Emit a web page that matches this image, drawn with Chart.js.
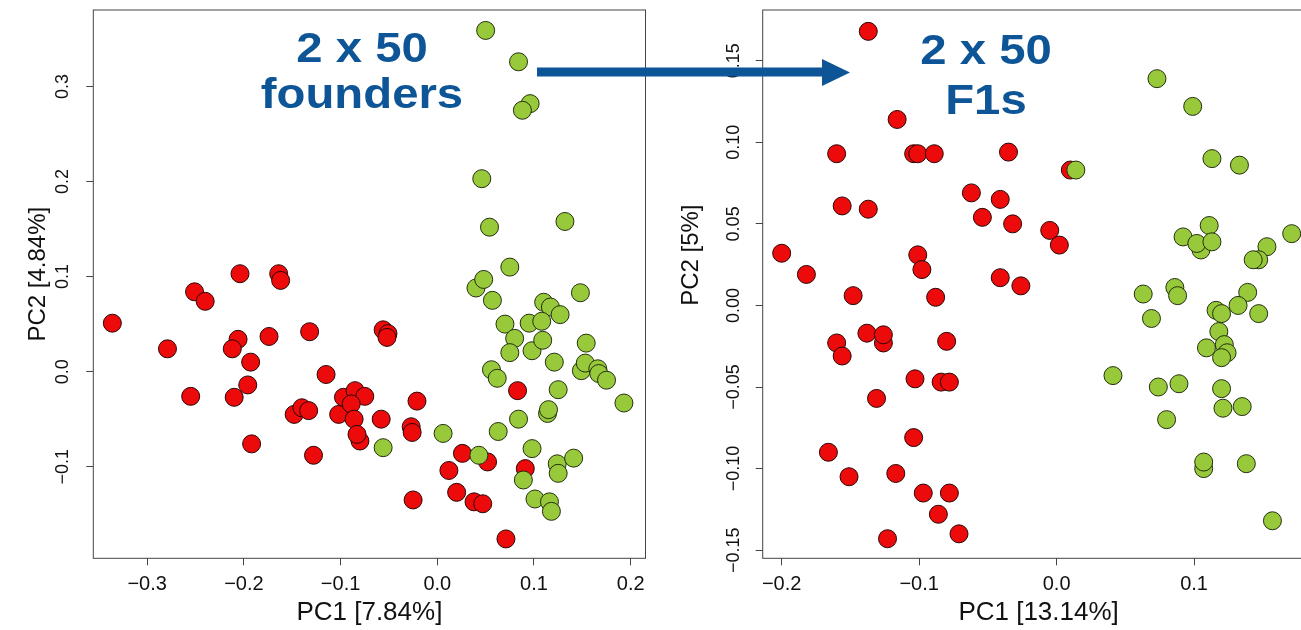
<!DOCTYPE html>
<html>
<head>
  <title>PCA founders vs F1s</title>
  <script src="https://cdn.jsdelivr.net/npm/chart.js"></script>
  <style>
    body{
        margin:0px;
        padding:0px;
        background-color:#ffffff;
        overflow:hidden;
    }
    #page{
        position:relative;
        width:1301px;
        height:630px;
        overflow:hidden;
    }
    #left-chart{ position:absolute; left:0px; top:0px; }
    #right-chart{ position:absolute; left:660px; top:0px; }
    .label{
        position:absolute;
        top:24px;
        width:320px;
        text-align:center;
        font-family:'Liberation Sans', Arial, Helvetica, sans-serif;
        font-weight:bold;
        font-size:43px;
        color:#0d5596;
        transform:scaleX(1.1);
    }
    #left-label{ left:202px; line-height:46px; }
    #right-label{ left:826px; line-height:50px; }
    #arrow{ position:absolute; left:0px; top:0px; }
  </style>
</head>
<body>
<div id="page">
  <canvas id="left-chart" width="660" height="630"></canvas>
  <canvas id="right-chart" width="669" height="630"></canvas>
  <div id="left-label" class="label">2 x 50<br>founders</div>
  <div id="right-label" class="label">2 x 50<br>F1s</div>
  <svg id="arrow" width="1301" height="630">
    <line x1="537" y1="72" x2="826" y2="72" stroke="#0d5596" stroke-width="9"/>
    <polygon points="822,59 850,72.5 822,86" fill="#0d5596"/>
  </svg>
</div>
<script>
// founders, PC1 / PC2  [x, y]
const foundersRed = [
  [-0.336, 0.051], [-0.279, 0.024], [-0.255, -0.026], [-0.251, 0.084], [-0.240, 0.074],
  [-0.204, 0.103], [-0.206, 0.034], [-0.212, 0.024], [-0.210, -0.027], [-0.193, 0.010],
  [-0.196, -0.014], [-0.192, -0.076], [-0.174, 0.037], [-0.164, 0.103], [-0.162, 0.096],
  [-0.148, -0.045], [-0.140, -0.038], [-0.133, -0.041], [-0.132, 0.042], [-0.128, -0.088],
  [-0.115, -0.003], [-0.102, -0.045], [-0.097, -0.027], [-0.085, -0.020], [-0.075, -0.026],
  [-0.089, -0.034], [-0.086, -0.050], [-0.080, -0.073], [-0.083, -0.066], [-0.058, -0.050],
  [-0.056, 0.044], [-0.051, 0.040], [-0.052, 0.036], [-0.021, -0.031], [-0.027, -0.058],
  [-0.026, -0.064], [-0.025, -0.135], [0.012, -0.104], [0.026, -0.086], [0.052, -0.095],
  [0.020, -0.127], [0.038, -0.137], [0.047, -0.139], [0.083, -0.020], [0.091, -0.102],
  [0.071, -0.176]
];
const foundersGreen = [
  [0.050, 0.359], [0.084, 0.326], [0.096, 0.282], [0.088, 0.275], [0.046, 0.203],
  [0.054, 0.152], [0.132, 0.158], [0.075, 0.110], [0.040, 0.088], [0.048, 0.097],
  [0.148, 0.083], [0.057, 0.075], [0.110, 0.073], [0.117, 0.068], [0.127, 0.060],
  [0.070, 0.050], [0.095, 0.051], [0.108, 0.053], [0.080, 0.035], [0.075, 0.020],
  [0.098, 0.022], [0.109, 0.033], [0.154, 0.030], [0.121, 0.010], [0.149, 0.001],
  [0.153, 0.009], [0.166, 0.003], [0.167, -0.002], [0.175, -0.009], [0.193, -0.033],
  [0.056, 0.002], [0.062, -0.007], [0.125, -0.019], [0.114, -0.044], [0.115, -0.040],
  [0.084, -0.050], [0.063, -0.063], [0.006, -0.065], [0.043, -0.088], [0.098, -0.081],
  [0.124, -0.097], [0.125, -0.107], [0.141, -0.091], [0.089, -0.114], [0.101, -0.134],
  [0.116, -0.137], [0.118, -0.147], [-0.056, -0.080]
];

// F1s, PC1 / PC2  [x, y]
const f1Red = [
  [-0.137, 0.168], [-0.116, 0.114], [-0.160, 0.093], [-0.104, 0.093], [-0.101, 0.093],
  [-0.089, 0.093], [-0.035, 0.094], [0.010, 0.083], [-0.156, 0.061], [-0.137, 0.059],
  [-0.062, 0.069], [-0.041, 0.065], [-0.054, 0.054], [-0.032, 0.050], [-0.005, 0.046],
  [0.002, 0.037], [-0.200, 0.032], [-0.182, 0.019], [-0.101, 0.031], [-0.098, 0.022],
  [-0.041, 0.017], [-0.026, 0.012], [-0.148, 0.006], [-0.088, 0.005], [-0.138, -0.017],
  [-0.126, -0.023], [-0.126, -0.018], [-0.160, -0.023], [-0.156, -0.031], [-0.080, -0.022],
  [-0.103, -0.045], [-0.084, -0.047], [-0.078, -0.047], [-0.131, -0.057], [-0.104, -0.081],
  [-0.166, -0.090], [-0.151, -0.105], [-0.117, -0.103], [-0.097, -0.115], [-0.078, -0.115],
  [-0.086, -0.128], [-0.123, -0.143], [-0.071, -0.140]
];
const f1Green = [
  [0.014, 0.083], [0.073, 0.139], [0.099, 0.122], [0.113, 0.090], [0.133, 0.086],
  [0.111, 0.049], [0.092, 0.042], [0.105, 0.034], [0.102, 0.038], [0.113, 0.039],
  [0.171, 0.044], [0.153, 0.036], [0.147, 0.028], [0.143, 0.028], [0.063, 0.007],
  [0.086, 0.011], [0.088, 0.006], [0.069, -0.008], [0.139, 0.008], [0.132, 0.000],
  [0.147, -0.005], [0.116, -0.003], [0.120, -0.005], [0.118, -0.016], [0.122, -0.024],
  [0.124, -0.029], [0.109, -0.026], [0.120, -0.032], [0.041, -0.043], [0.074, -0.050],
  [0.089, -0.048], [0.120, -0.051], [0.080, -0.070], [0.121, -0.063], [0.135, -0.062],
  [0.107, -0.100], [0.107, -0.096], [0.138, -0.097], [0.157, -0.132]
];

// tick values and labels
const leftXTicks = [-0.3, -0.2, -0.1, 0.0, 0.1, 0.2];
const leftXLabels = ['\u22120.3', '\u22120.2', '\u22120.1', '0.0', '0.1', '0.2'];
const leftYTicks = [-0.1, 0.0, 0.1, 0.2, 0.3];
const leftYLabels = ['\u22120.1', '0.0', '0.1', '0.2', '0.3'];
const rightXTicks = [-0.2, -0.1, 0.0, 0.1];
const rightXLabels = ['\u22120.2', '\u22120.1', '0.0', '0.1'];
const rightYTicks = [-0.15, -0.10, -0.05, 0.00, 0.05, 0.10, 0.15];
const rightYLabels = ['\u22120.15', '\u22120.10', '\u22120.05', '0.00', '0.05', '0.10', '0.15'];

Chart.defaults.font.family = "'Liberation Sans', Arial, Helvetica, sans-serif";
Chart.defaults.color = '#111';

// R style box round the plot region
const boxPlugin = {
  id: 'box',
  afterDraw(chart) {
    const a = chart.chartArea;
    const ctx = chart.ctx;
    ctx.save();
    ctx.strokeStyle = '#444';
    ctx.lineWidth = 1;
    ctx.strokeRect(a.left, a.top, a.right - a.left, a.bottom - a.top);
    ctx.restore();
  }
};

// y axis title, the original sits a bit above the middle of the axis
const yTitlePlugin = {
  id: 'yTitle',
  afterDraw(chart, args, opts) {
    const a = chart.chartArea;
    const ctx = chart.ctx;
    ctx.save();
    ctx.translate(opts.x, (a.top + a.bottom) / 2 + opts.dy);
    ctx.rotate(-Math.PI / 2);
    ctx.font = "24px 'Liberation Sans', Arial, Helvetica, sans-serif";
    ctx.fillStyle = '#111';
    ctx.textAlign = 'center';
    ctx.textBaseline = 'middle';
    ctx.fillText(opts.text, 0, 0);
    ctx.restore();
  }
};

function toPoints(arr){
  return arr.map(p => ({x: p[0], y: p[1]}));
}

function makeChart(id, red, green, opt){
  const ctx = document.getElementById(id).getContext('2d');
  return new Chart(ctx, {
    type: 'scatter',
    data: {
      datasets: [
        { label: 'green', data: toPoints(green), order: 0,
          backgroundColor: '#97c93a', borderColor: '#22300c', borderWidth: 1, pointRadius: 9 },
        { label: 'red', data: toPoints(red), order: 1,
          backgroundColor: '#ec0a0a', borderColor: '#2a0505', borderWidth: 1, pointRadius: 9 }
      ]
    },
    options: {
      responsive: false,
      animation: false,
      devicePixelRatio: 1,
      events: [],
      layout: { padding: { left: 0, top: 7.3, right: 14.5, bottom: 0 } },
      plugins: {
        legend: { display: false },
        tooltip: { enabled: false },
        yTitle: { text: opt.yTitle, x: opt.yTitleX, dy: opt.yTitleDy }
      },
      scales: {
        x: {
          type: 'linear',
          min: opt.xMin, max: opt.xMax,
          afterBuildTicks: s => { s.ticks = opt.xTicks.map(v => ({value: v})); },
          afterFit: s => { s.height = 71.7; s.paddingLeft = 0; s.paddingRight = 0; },
          border: { display: false },
          grid: { drawOnChartArea: false, drawTicks: true, tickLength: 7, tickColor: '#444' },
          ticks: { padding: 7.4, font: { size: 20 }, color: '#111',
                   maxRotation: 0, callback: (v, i) => opt.xLabels[i] },
          title: { display: true, text: opt.xTitle, font: { size: 26 }, color: '#111',
                   padding: { top: 0, bottom: 1.4 } }
        },
        y: {
          type: 'linear',
          min: opt.yMin, max: opt.yMax,
          afterBuildTicks: s => { s.ticks = opt.yTicks.map(v => ({value: v})); },
          afterFit: s => { s.width = opt.yWidth; s.paddingTop = 0; s.paddingBottom = 0; },
          border: { display: false },
          grid: { drawOnChartArea: false, drawTicks: true, tickLength: 7, tickColor: '#444' },
          ticks: { padding: opt.yPad, font: { size: 18 }, color: '#111',
                   minRotation: 90, maxRotation: 90, crossAlign: 'center',
                   callback: (v, i) => opt.yLabels[i] },
          title: { display: false }
        }
      }
    },
    plugins: [boxPlugin, yTitlePlugin]
  });
}

makeChart('left-chart', foundersRed, foundersGreen, {
  xMin: -0.3557, xMax: 0.2153, yMin: -0.1964, yMax: 0.3805,
  xTicks: leftXTicks, xLabels: leftXLabels, yTicks: leftYTicks, yLabels: leftYLabels,
  xTitle: 'PC1 [7.84%]', yTitle: 'PC2 [4.84%]',
  yWidth: 93.3, yPad: 6, yTitleX: 38, yTitleDy: -10
});

makeChart('right-chart', f1Red, f1Green, {
  xMin: -0.2138, xMax: 0.1876, yMin: -0.155, yMax: 0.1811,
  xTicks: rightXTicks, xLabels: rightXLabels, yTicks: rightYTicks, yLabels: rightYLabels,
  xTitle: 'PC1 [13.14%]', yTitle: 'PC2 [5%]',
  yWidth: 102.7, yPad: -1, yTitleX: 31.7, yTitleDy: -29
});
</script>
</body>
</html>
